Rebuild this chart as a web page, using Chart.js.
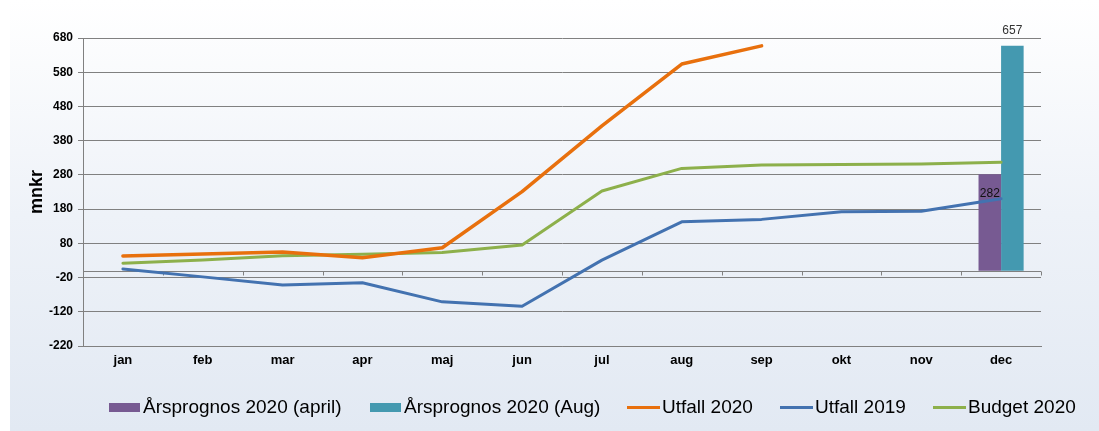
<!DOCTYPE html>
<html>
<head>
<meta charset="utf-8">
<script src="https://cdn.jsdelivr.net/npm/chart.js@4.4.1/dist/chart.umd.min.js"></script>
<style>
  html, body { margin: 0; padding: 0; background: #fff; }
  #wrap { position: relative; width: 1099px; height: 431px; overflow: hidden; background: #fff; }
  #panel { position: absolute; left: 10px; top: 0; width: 1089px; height: 431px;
           background: linear-gradient(#ffffff 0%, #eef2f8 50%, #e2e9f3 100%); }
  #c { position: absolute; left: 0; top: 0; }
  #legend { position: absolute; left: 0; top: 396px; width: 1099px; height: 22px;
            font-family: 'Liberation Sans', Arial, sans-serif; font-size: 19px; color: #000; white-space: nowrap; }
  #legend .item { position: absolute; top: 0; height: 22px; display: flex; align-items: center; }
  #legend .box { width: 31px; height: 9px; margin-right: 3px; }
  #legend .line { width: 33px; height: 3px; margin-right: 2px; }
</style>
</head>
<body>
<div id="wrap">
  <div id="panel"></div>
  <canvas id="c" width="1099" height="431"></canvas>
  <div id="legend"></div>
</div>
<script>
// data (mnkr)
var months = ['jan', 'feb', 'mar', 'apr', 'maj', 'jun', 'jul', 'aug', 'sep', 'okt', 'nov', 'dec'];
var prognosApril = [null, null, null, null, null, null, null, null, null, null, null, 282];
var prognosAug = [null, null, null, null, null, null, null, null, null, null, null, 657];
var utfall2020 = [43, 49, 55, 38, 67, 231, 423, 604, 657, null, null, null];
var utfall2019 = [5, -18, -42, -35, -91, -104, 31, 143, 150, 172, 174, 210];
var budget2020 = [22, 31, 44, 48, 53, 75, 233, 299, 309, 310, 312, 317];

var yMin = -220, yMax = 680, yStep = 100;

var gridColor = '#808080';
// where each legend entry starts
var legendLeft = [109, 370, 627, 780, 933];

Chart.defaults.font.family = "'Liberation Sans', Arial, sans-serif";
Chart.defaults.color = '#000';

// zero axis line with tick marks between the months
var zeroAxis = {
    id: 'zeroAxis',
    beforeDatasetsDraw: function (chart) {
        var ctx = chart.ctx;
        var x = chart.scales.x, y = chart.scales.y;
        var y0 = Math.round(y.getPixelForValue(0)) + 0.5;
        var w = (x.right - x.left) / months.length;
        ctx.save();
        ctx.strokeStyle = gridColor;
        ctx.lineWidth = 1;
        ctx.beginPath();
        ctx.moveTo(x.left, y0);
        ctx.lineTo(x.right, y0);
        for (var i = 0; i <= months.length; i++) {
            var px = Math.round(x.left + i * w) + 0.5;
            ctx.moveTo(px, y0);
            ctx.lineTo(px, y0 + 4);
        }
        ctx.stroke();
        ctx.restore();
    }
};

// value labels on the bars
var barLabels = {
    id: 'barLabels',
    afterDatasetsDraw: function (chart) {
        var ctx = chart.ctx;
        ctx.save();
        ctx.font = '12px ' + Chart.defaults.font.family;
        ctx.textAlign = 'center';
        ctx.textBaseline = 'middle';
        chart.data.datasets.forEach(function (ds, di) {
            if (ds.type !== 'bar') return;
            var meta = chart.getDatasetMeta(di);
            meta.data.forEach(function (el, i) {
                var v = ds.data[i];
                if (v === null || v === undefined) return;
                ctx.fillStyle = ds.labelColor;
                ctx.fillText(String(v), el.x, el.y + ds.labelOffset);
            });
        });
        ctx.restore();
    }
};

var datasets = [
    { type: 'bar', label: 'Årsprognos 2020 (april)', data: prognosApril, backgroundColor: '#775a92',
      barPercentage: 1, categoryPercentage: 0.565, order: 2, labelOffset: 19, labelColor: '#111' },
    { type: 'bar', label: 'Årsprognos 2020 (Aug)', data: prognosAug, backgroundColor: '#4499b0',
      barPercentage: 1, categoryPercentage: 0.565, order: 2, labelOffset: -15, labelColor: '#333' },
    { type: 'line', label: 'Utfall 2020', data: utfall2020, borderColor: '#e8700d', backgroundColor: '#e8700d',
      borderWidth: 3.5, pointRadius: 0, tension: 0, borderCapStyle: 'round', borderJoinStyle: 'round', order: 1 },
    { type: 'line', label: 'Utfall 2019', data: utfall2019, borderColor: '#4372b0', backgroundColor: '#4372b0',
      borderWidth: 3, pointRadius: 0, tension: 0, borderCapStyle: 'round', borderJoinStyle: 'round', order: 1 },
    { type: 'line', label: 'Budget 2020', data: budget2020, borderColor: '#8db04b', backgroundColor: '#8db04b',
      borderWidth: 3, pointRadius: 0, tension: 0, borderCapStyle: 'round', borderJoinStyle: 'round', order: 1 }
];

var chart = new Chart(document.getElementById('c'), {
    data: { labels: months, datasets: datasets },
    options: {
        responsive: false,
        animation: false,
        layout: { padding: { left: 16, top: 38, right: 58, bottom: 0 } },
        plugins: { legend: { display: false }, tooltip: { enabled: false } },
        scales: {
            x: {
                grid: { display: false, drawTicks: false },
                border: { display: true, color: gridColor },
                ticks: { font: { size: 13, weight: 'bold' }, padding: 7, color: '#000' },
                afterFit: function (s) { s.height = 85; }
            },
            y: {
                min: yMin, max: yMax,
                ticks: { stepSize: yStep, font: { size: 12, weight: 'bold' }, padding: 5, color: '#000' },
                grid: { color: gridColor, tickLength: 5, tickColor: gridColor },
                border: { display: true, color: gridColor },
                title: { display: true, text: 'mnkr', font: { size: 18, weight: 'bold' }, color: '#000',
                         padding: { top: 10, bottom: 0 } },
                afterFit: function (s) { s.width = 67; }
            }
        }
    },
    plugins: [zeroAxis, barLabels]
});

// legend
var legend = document.getElementById('legend');
datasets.forEach(function (ds, i) {
    var item = document.createElement('div');
    item.className = 'item';
    item.style.left = legendLeft[i] + 'px';
    var mark = document.createElement('span');
    mark.className = ds.type === 'bar' ? 'box' : 'line';
    mark.style.background = ds.backgroundColor;
    var txt = document.createElement('span');
    txt.textContent = ds.label;
    item.appendChild(mark);
    item.appendChild(txt);
    legend.appendChild(item);
});
</script>
</body>
</html>
